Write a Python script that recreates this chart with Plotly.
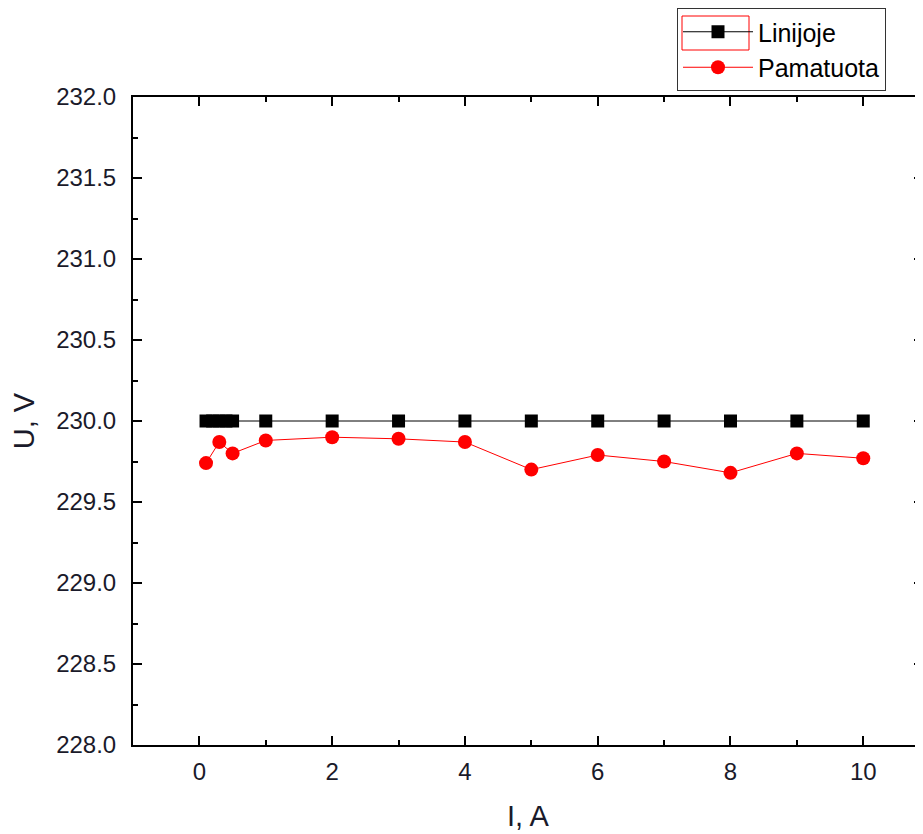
import plotly.graph_objects as go

x_lin = [0.1, 0.2, 0.3, 0.4, 0.5, 1, 2, 3, 4, 5, 6, 7, 8, 9, 10]
u_lin = [230.0] * 15
x_pam = [0.1, 0.3, 0.5, 1, 2, 3, 4, 5, 6, 7, 8, 9, 10]
u_pam = [229.74, 229.87, 229.80, 229.88, 229.90, 229.89, 229.87, 229.70, 229.79, 229.75, 229.68, 229.80, 229.77]

# page body has an 8px margin, so the figure is 8px smaller than the window
W, H = 915, 826
L, T, B, R = 125, 89, 89, 0
FONT = "Liberation Sans, Arial"

fig = go.Figure()
fig.add_trace(go.Scatter(x=x_lin, y=u_lin, mode="lines+markers", name="Linijoje",
                         line=dict(color="black", width=1),
                         marker=dict(symbol="square", size=13, color="black")))
fig.add_trace(go.Scatter(x=x_pam, y=u_pam, mode="lines+markers", name="Pamatuota",
                         line=dict(color="red", width=1),
                         marker=dict(symbol="circle", size=14, color="red")))

axis_common = dict(showline=True, linecolor="black", linewidth=2, mirror="ticks",
                   ticks="inside", tickcolor="black", tickwidth=2, ticklen=9,
                   showgrid=False, zeroline=False, automargin=False,
                   tickfont=dict(family=FONT, size=24, color="#1a1a2a"))

fig.update_xaxes(range=[-1, 10.9], tickvals=[0, 2, 4, 6, 8, 10],
                 minor=dict(dtick=1, ticks="inside", ticklen=5, tickcolor="black", tickwidth=2),
                 ticklabelstandoff=4,
                 title=dict(text="I, A", font=dict(family=FONT, size=29, color="#1a1a2a"), standoff=22),
                 **axis_common)
fig.update_yaxes(range=[228.0, 232.0], tickvals=[228.0, 228.5, 229.0, 229.5, 230.0, 230.5, 231.0, 231.5, 232.0],
                 tickformat=".1f",
                 minor=dict(dtick=0.25, ticks="inside", ticklen=5, tickcolor="black", tickwidth=2),
                 ticklabelstandoff=10,
                 title=dict(text="U, V", font=dict(family=FONT, size=29, color="#1a1a2a"), standoff=16),
                 **axis_common)

def px_x(px):
    return (px - 8 - L) / (W - L - R)

def px_y(py):
    return (H - B - (py - 8)) / (H - T - B)

fig.add_shape(type="rect", xref="paper", yref="paper",
              x0=px_x(682), x1=px_x(749), y0=px_y(50), y1=px_y(16),
              line=dict(color="red", width=1))

fig.update_layout(
    width=W, height=H,
    margin=dict(l=L, r=R, t=T, b=B, autoexpand=False),
    plot_bgcolor="white", paper_bgcolor="white",
    showlegend=True,
    legend=dict(xref="container", yref="container", x=(677 - 8) / W, y=1.0,
                xanchor="left", yanchor="top",
                bordercolor="#333", borderwidth=1, bgcolor="rgba(0,0,0,0)",
                font=dict(family=FONT, size=25, color="black"),
                itemwidth=70, tracegroupgap=0),
)

fig.write_html("out.html")
